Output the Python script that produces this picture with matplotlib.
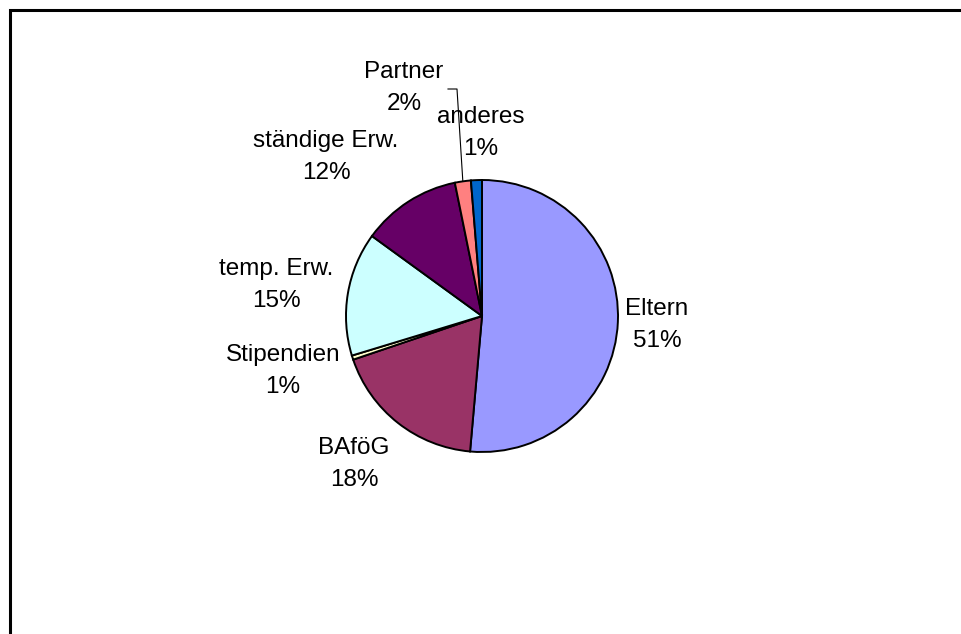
import numpy as np
import matplotlib
matplotlib.use("Agg")
import matplotlib.pyplot as plt
import matplotlib.patches as mpatches

# ── Data ──────────────────────────────────────────────────────────────────────
labels = ["Eltern", "BAföG", "Stipendien", "temp. Erw.", "ständige Erw.", "Partner", "anderes"]
shares = [51.4, 18.4, 0.5, 14.7, 11.8, 1.9, 1.3]
colors = ["#9999FF", "#993366", "#FFFFCC", "#CCFFFF", "#660066", "#FF8080", "#0066CC"]

# label block centres (pixel coords, y measured from top)
label_pos = [(657, 325), (354, 464), (283, 371), (276, 285), (326, 157), (404, 88), (481, 133)]

W, H = 961, 634
plt.rcParams["font.family"] = ["Liberation Sans", "DejaVu Sans"]

fig = plt.figure(figsize=(W / 100, H / 100), dpi=100)
ax = fig.add_axes([0, 0, 1, 1])

cx, cy, r = 482, H - 316, 136
wedges, _ = ax.pie(
    shares, colors=colors, startangle=90, counterclock=False,
    center=(cx, cy), radius=r, frame=True,
    wedgeprops={"edgecolor": "black", "linewidth": 1.4},
)
ax.set_xlim(0, W)
ax.set_ylim(0, H)
ax.set_aspect("equal")
ax.axis("off")

total = sum(shares)
for name, val, (lx, ly) in zip(labels, shares, label_pos):
    pct = int(np.floor(val / total * 100 + 0.5))   # round half up
    ax.text(lx, H - ly, f"{name}\n{pct}%", ha="center", va="center",
            fontsize=17.5, linespacing=1.62, color="black")

# leader line for the small "Partner" slice
w = wedges[5]
mid = np.deg2rad((w.theta1 + w.theta2) / 2)
ex, ey = cx + r * np.cos(mid), cy + r * np.sin(mid)
ax.plot([448, 457, ex], [H - 89, H - 89, ey], color="black", lw=0.8)

# outer frame (right/bottom edges fall outside the canvas)
fig.patches.append(mpatches.Rectangle(
    (10 / W, -0.1), 1.2, 1 - 10 / H + 0.1, transform=fig.transFigure,
    fill=False, edgecolor="black", linewidth=2.2))

fig.savefig("out.png", dpi=100)
